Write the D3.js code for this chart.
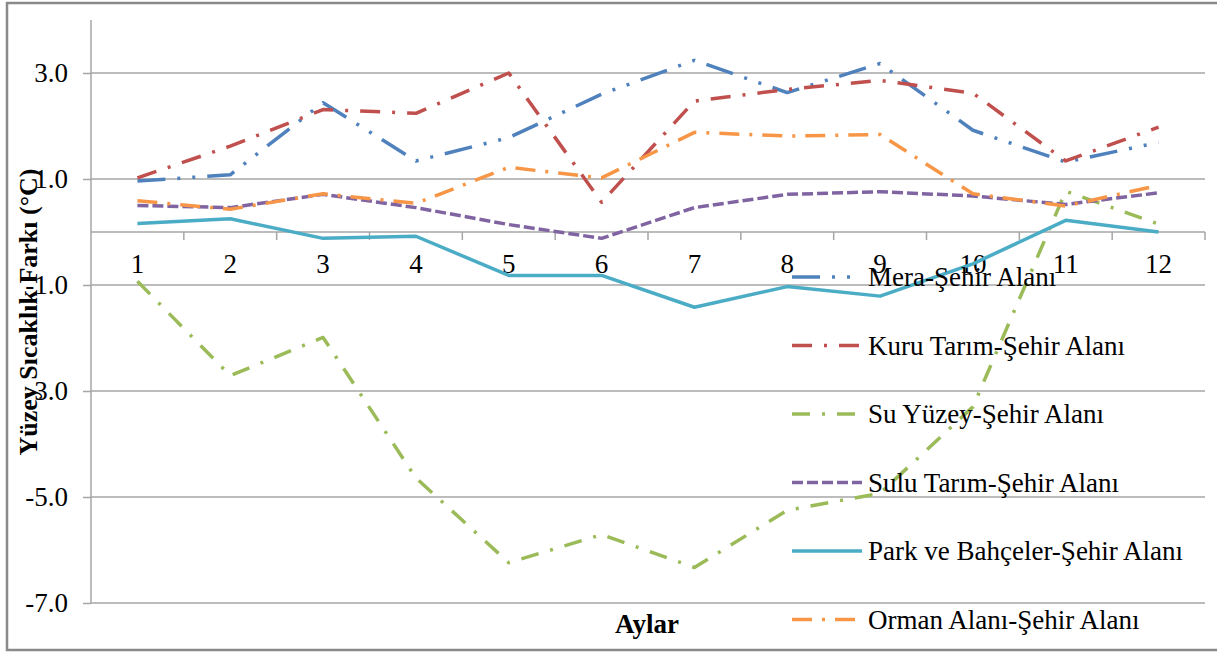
<!DOCTYPE html>
<html>
<head>
<meta charset="utf-8">
<script src="https://cdn.jsdelivr.net/npm/d3@7"></script>
<style>
  body { margin: 0; background: #fff; }
  svg { display: block; font-family: "Liberation Serif", "Times New Roman", serif; }
</style>
</head>
<body>
<svg id="chart" width="1217" height="653"></svg>
<script>
// months on the x axis
var months = [1, 2, 3, 4, 5, 6, 7, 8, 9, 10, 11, 12]
var yTicks = [3, 1, -1, -3, -5, -7]

// temperature difference of each land use to the city area (°C)
var mera   = [0.96, 1.08, 2.44, 1.34, 1.78, 2.6, 3.24, 2.63, 3.18, 1.92, 1.32, 1.69]
var kuru   = [1.02, 1.62, 2.31, 2.24, 3.0, 0.56, 2.47, 2.69, 2.86, 2.62, 1.34, 1.98]
var su     = [-0.93, -2.71, -1.99, -4.64, -6.24, -5.71, -6.33, -5.25, -4.93, -3.3, 0.77, 0.15]
var sulu   = [0.5, 0.46, 0.71, 0.46, 0.14, -0.12, 0.46, 0.71, 0.76, 0.68, 0.52, 0.74]
var park   = [0.16, 0.25, -0.12, -0.08, -0.82, -0.82, -1.42, -1.03, -1.21, -0.6, 0.22, 0.0]
var orman  = [0.59, 0.43, 0.72, 0.54, 1.22, 1.02, 1.88, 1.81, 1.84, 0.72, 0.49, 0.88]

var names = ["Mera-Şehir Alanı", "Kuru Tarım-Şehir Alanı", "Su Yüzey-Şehir Alanı",
             "Sulu Tarım-Şehir Alanı", "Park ve Bahçeler-Şehir Alanı", "Orman Alanı-Şehir Alanı"]

var series = [
    {name: names[0], values: mera,  color: "#4F81BD", dash: "28 12 3 12 3 12"},
    {name: names[1], values: kuru,  color: "#C0504D", dash: "20 12 3 12"},
    {name: names[2], values: su,    color: "#9BBB59", dash: "18 12 3 12"},
    {name: names[3], values: sulu,  color: "#8064A2", dash: "11 4"},
    {name: names[4], values: park,  color: "#4BACC6", dash: null},
    {name: names[5], values: orman, color: "#F79646", dash: "20 10 3 10"}
]

var svg = d3.select("#chart")
var pLeft = 91, pRight = 1205, pTop = 20, pBottom = 603
var fs = 27

// outer frame of the chart
svg.append("rect")
    .attr("x", 7).attr("y", 3)
    .attr("width", 1215).attr("height", 647)
    .attr("fill", "none")
    .attr("stroke", "#8a8a8a")
    .attr("stroke-width", 2.5)

var x = d3.scaleBand().domain(months).range([pLeft, pRight])
var y = d3.scaleLinear().domain([-7, 4]).range([pBottom, pTop])

// gridlines
svg.append("g")
    .selectAll("line")
    .data(yTicks)
    .enter().append("line")
    .attr("x1", pLeft).attr("x2", pRight)
    .attr("y1", function(d) { return y(d) })
    .attr("y2", function(d) { return y(d) })
    .attr("stroke", "#a6a6a6")
    .attr("stroke-width", 1.5)

// axis title (drawn before tick labels, they sit over it)
svg.append("text")
    .attr("transform", "translate(37," + 312 + ") rotate(-90)")
    .attr("text-anchor", "middle")
    .attr("font-weight", "bold")
    .attr("font-size", 26)
    .text("Yüzey Sıcaklık Farkı (°C)")

// y axis
var yAxis = d3.axisLeft(y)
    .tickValues(yTicks)
    .tickSize(8)
    .tickPadding(15)
    .tickFormat(function(d) { return d.toFixed(1) })
var gy = svg.append("g")
    .attr("transform", "translate(" + pLeft + ",0)")
    .call(yAxis)
gy.select(".domain").attr("stroke", "#a6a6a6").attr("stroke-width", 1.5)
    .attr("d", "M0," + pTop + "V" + pBottom)
gy.selectAll(".tick line").attr("stroke", "#a6a6a6").attr("stroke-width", 1.5)
gy.selectAll(".tick text").attr("font-size", fs).attr("fill", "#000")
    .attr("font-family", "Liberation Serif")

// x axis crossing at 0
var xAxis = d3.axisBottom(x).tickSize(0).tickPadding(22)
var gx = svg.append("g")
    .attr("transform", "translate(0," + y(0) + ")")
    .call(xAxis)
gx.select(".domain").attr("stroke", "#a6a6a6").attr("stroke-width", 1.5)
    .attr("d", "M" + pLeft + ",0H" + pRight)
gx.selectAll(".tick text").attr("font-size", fs).attr("fill", "#000")
    .attr("font-family", "Liberation Serif")
// tick marks between categories
gx.selectAll(".sep")
    .data(months.slice(1).concat(["end"]))
    .enter().append("line")
    .attr("class", "sep")
    .attr("x1", function(d) { return d === "end" ? pRight : x(d) })
    .attr("x2", function(d) { return d === "end" ? pRight : x(d) })
    .attr("y1", 0).attr("y2", 8)
    .attr("stroke", "#a6a6a6").attr("stroke-width", 1.5)

svg.append("text")
    .attr("x", 647).attr("y", 633)
    .attr("text-anchor", "middle")
    .attr("font-weight", "bold")
    .attr("font-size", fs)
    .text("Aylar")

// lines
var line = d3.line()
    .x(function(d, i) { return x(months[i]) + x.bandwidth() / 2 })
    .y(function(d) { return y(d) })

svg.append("g")
    .selectAll("path")
    .data(series)
    .enter().append("path")
    .attr("d", function(d) { return line(d.values) })
    .attr("fill", "none")
    .attr("stroke", function(d) { return d.color })
    .attr("stroke-width", 3.5)
    .attr("stroke-linejoin", "round")
    .attr("stroke-dasharray", function(d) { return d.dash })

// legend
var legend = svg.append("g")
    .selectAll("g")
    .data(series)
    .enter().append("g")
    .attr("transform", function(d, i) { return "translate(792," + (277 + i * 68.5) + ")" })

legend.append("line")
    .attr("x1", 0).attr("x2", 70)
    .attr("stroke", function(d) { return d.color })
    .attr("stroke-width", 3.5)
    .attr("stroke-dasharray", function(d) { return d.dash })

legend.append("text")
    .attr("x", 76).attr("dy", "0.35em")
    .attr("font-size", fs)
    .text(function(d) { return d.name })
</script>
</body>
</html>
